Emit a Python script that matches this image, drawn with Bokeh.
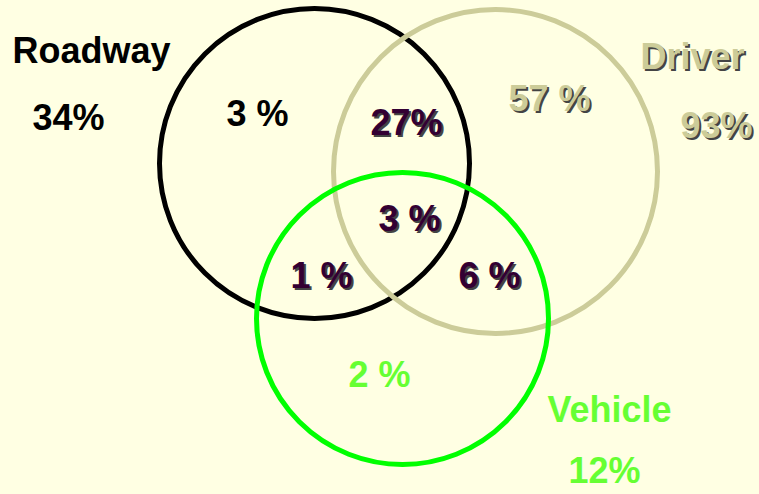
from bokeh.plotting import figure
from bokeh.models import ColumnDataSource, Range1d
from bokeh.core.properties import value
from bokeh.embed import file_html
from bokeh.resources import INLINE

# ---- data ----
sets = ["Roadway", "Driver", "Vehicle"]
set_totals = ["34%", "93%", "12%"]
regions = ["Roadway only", "Roadway & Driver", "Driver only", "All three",
           "Roadway & Vehicle", "Driver & Vehicle", "Vehicle only"]
region_values = ["3 %", "27%", "57 %", "3 %", "1 %", "6 %", "2 %"]

# ---- layout (image pixel coordinates) ----
circle_x = [314, 495, 402]
circle_y = [163, 171, 318]
circle_r = [155, 162, 146]
circle_colors = ["#000000", "#CCCC99", "#00FF00"]

name_x = [12, 640, 547]
name_y = [50, 56, 409]
total_x = [32, 680, 568]
total_y = [117, 125, 470]
set_text_colors = ["#000000", "#CCCC99", "#66FF33"]
set_shadow = [False, True, False]

region_x = [226, 370, 508, 378, 290, 458, 348]
region_y = [113, 122, 98, 218, 275, 275, 374]
region_colors = ["#000000", "#330033", "#CCCC99", "#330033", "#330033", "#330033", "#66FF33"]
region_shadow = [False, True, True, True, True, True, False]

BG = "#FFFFE3"
FONT = value("Liberation Sans")
SIZE = "36px"

p = figure(width=759, height=494, output_backend="svg", toolbar_location=None,
           x_range=Range1d(0, 759), y_range=Range1d(494, 0),
           min_border=0, background_fill_color=BG, border_fill_color=BG)
p.axis.visible = False
p.grid.visible = False
p.outline_line_color = None

p.circle(x=circle_x, y=circle_y, radius=circle_r, fill_alpha=0,
         line_color=circle_colors, line_width=5)

# texts
txt = []
for i in range(3):
    txt.append((name_x[i], name_y[i], sets[i], set_text_colors[i], set_shadow[i]))
    txt.append((total_x[i], total_y[i], set_totals[i], set_text_colors[i], set_shadow[i]))
for i in range(len(regions)):
    txt.append((region_x[i], region_y[i], region_values[i], region_colors[i], region_shadow[i]))

sh = [t for t in txt if t[4]]
shadow_src = ColumnDataSource(dict(x=[t[0] + 2 for t in sh], y=[t[1] + 2 for t in sh],
                                   text=[t[2] for t in sh]))
p.text(x="x", y="y", text="text", source=shadow_src, text_color="#444444",
       text_font=FONT, text_font_size=SIZE, text_font_style="bold",
       text_align="left", text_baseline="alphabetic")

main_src = ColumnDataSource(dict(x=[t[0] for t in txt], y=[t[1] for t in txt],
                                 text=[t[2] for t in txt], color=[t[3] for t in txt]))
p.text(x="x", y="y", text="text", source=main_src, text_color="color",
       text_font=FONT, text_font_size=SIZE, text_font_style="bold",
       text_align="left", text_baseline="alphabetic")

html = file_html(p, INLINE)
html = html.replace("<head>", "<head><style>body{background:%s;}</style>" % BG, 1)
open("out.html", "w").write(html)
